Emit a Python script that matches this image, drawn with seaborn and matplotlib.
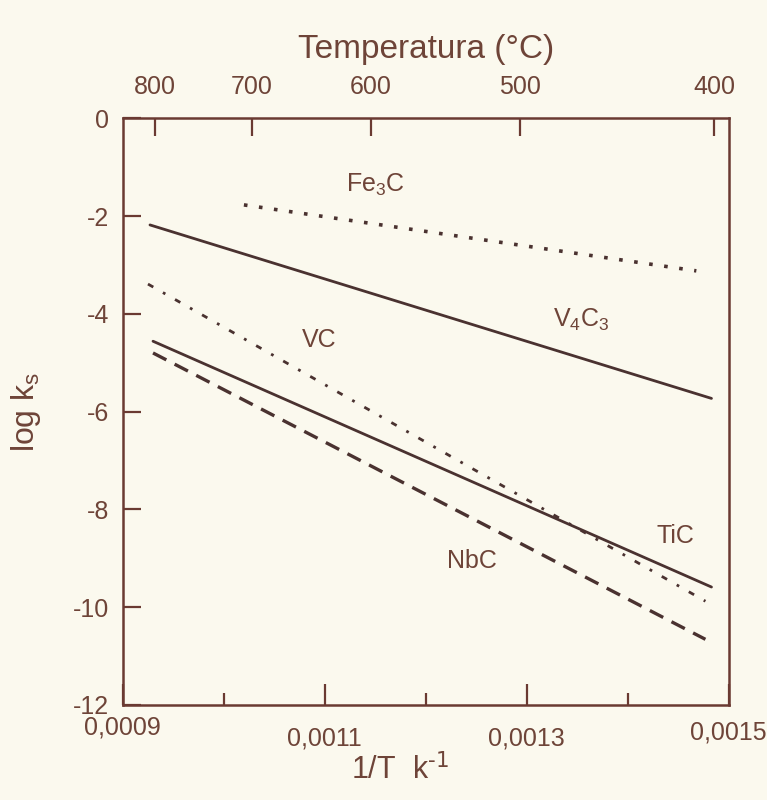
import numpy as np
import pandas as pd
import matplotlib
matplotlib.use("Agg")
import matplotlib.pyplot as plt
import seaborn as sns

# ---- data ----
phases = ["Fe3C", "V4C3", "VC", "TiC", "NbC"]
invT_start = [0.001020, 0.000927, 0.000925, 0.000930, 0.000930]
invT_end = [0.001468, 0.001483, 0.001477, 0.001483, 0.001477]
logk_start = [-1.77, -2.18, -3.39, -4.56, -4.80]
logk_end = [-3.12, -5.73, -9.88, -9.59, -10.66]

phase_labels = [r"Fe$_{3}$C", r"V$_{4}$C$_{3}$", "VC", "TiC", "NbC"]
label_x = [0.001150, 0.001354, 0.001095, 0.001447, 0.001246]
label_y = [-1.36, -4.13, -4.54, -8.54, -9.06]

bottom_ticks = [0.0009, 0.0011, 0.0013, 0.0015]
bottom_labels = ["0,0009", "0,0011", "0,0013", "0,0015"]
bottom_minor = [0.0010, 0.0012, 0.0014]
y_ticks = [0, -2, -4, -6, -8, -10, -12]
y_labels = ["0", "-2", "-4", "-6", "-8", "-10", "-12"]
top_temps_C = [800, 700, 600, 500, 400]

rows = []
for p, x0, x1, y0, y1 in zip(phases, invT_start, invT_end, logk_start, logk_end):
    rows.append({"phase": p, "invT": x0, "logk": y0})
    rows.append({"phase": p, "invT": x1, "logk": y1})
df = pd.DataFrame(rows)

# ---- style ----
sns.set_theme(style="ticks")
plt.rcParams["font.family"] = ["Liberation Sans", "DejaVu Sans"]
plt.rcParams["mathtext.default"] = "regular"
plt.rcParams["axes.unicode_minus"] = False

bg = "#fbf9ee"
txt = "#6e4438"
line_c = "#4a3230"
spine_c = "#6a3a32"

styles = {
    "Fe3C": dict(linestyle=(0, (1.0, 3.2)), linewidth=2.6),
    "V4C3": dict(linestyle="-", linewidth=2.0),
    "VC": dict(linestyle=(0, (2.2, 4.0, 1.0, 4.0)), linewidth=2.0),
    "TiC": dict(linestyle="-", linewidth=2.0),
    "NbC": dict(linestyle=(0, (4.5, 2.8)), linewidth=2.4),
}

fig = plt.figure(figsize=(7.67, 8.0), dpi=100, facecolor=bg)
ax = fig.add_axes([0.160, 0.119, 0.790, 0.733])
ax.set_facecolor(bg)

for p in phases:
    sub = df[df["phase"] == p]
    sns.lineplot(data=sub, x="invT", y="logk", ax=ax, color=line_c,
                 estimator=None, sort=False, legend=False, **styles[p])

for lab, lx, ly in zip(phase_labels, label_x, label_y):
    ax.text(lx, ly, lab, fontsize=18, color=txt, ha="center", va="center")

ax.set_xlim(0.0009, 0.0015)
ax.set_ylim(-12, 0)

ax.set_xticks(bottom_ticks)
ax.set_xticklabels(bottom_labels)
ax.set_xticks(bottom_minor, minor=True)
ax.set_yticks(y_ticks)
ax.set_yticklabels(y_labels)

ax.tick_params(axis="x", which="major", direction="in", length=15, width=1.6,
               color=spine_c, labelsize=18, labelcolor=txt, pad=8, top=False)
ax.tick_params(axis="x", which="minor", direction="in", length=9, width=1.6,
               color=spine_c, top=False)
ax.tick_params(axis="y", which="major", direction="in", length=13, width=1.6,
               color=spine_c, labelsize=18, labelcolor=txt, pad=10, right=False)

# staggered bottom labels like the original
for i, t in enumerate(ax.get_xticklabels()):
    if i in (1, 2):
        t.set_y(-0.018)
    elif i == 3:
        t.set_y(-0.008)

for s in ax.spines.values():
    s.set_color(spine_c)
    s.set_linewidth(1.8)

ax.set_xlabel(r"1/T  k$^{\text{-1}}$", fontsize=22, color=txt)
ax.xaxis.set_label_coords(0.457, -0.083)
ax.set_ylabel(r"log k$_{s}$", fontsize=23, color=txt)
ax.yaxis.set_label_coords(-0.132, 0.5)

# top temperature axis
ax2 = ax.twiny()
ax2.set_xlim(ax.get_xlim())
top_pos = [1.0 / (t + 273.0) for t in top_temps_C]
ax2.set_xticks(top_pos)
ax2.set_xticklabels([str(t) for t in top_temps_C])
ax2.tick_params(axis="x", direction="in", length=13, width=1.6, color=spine_c,
                labelsize=18, labelcolor=txt, pad=14)
for s in ax2.spines.values():
    s.set_visible(False)
ax2.set_xlabel("Temperatura (°C)", fontsize=24, color=txt)
ax2.xaxis.set_label_coords(0.5, 1.103)

fig.savefig("out.png", dpi=100, facecolor=bg)
